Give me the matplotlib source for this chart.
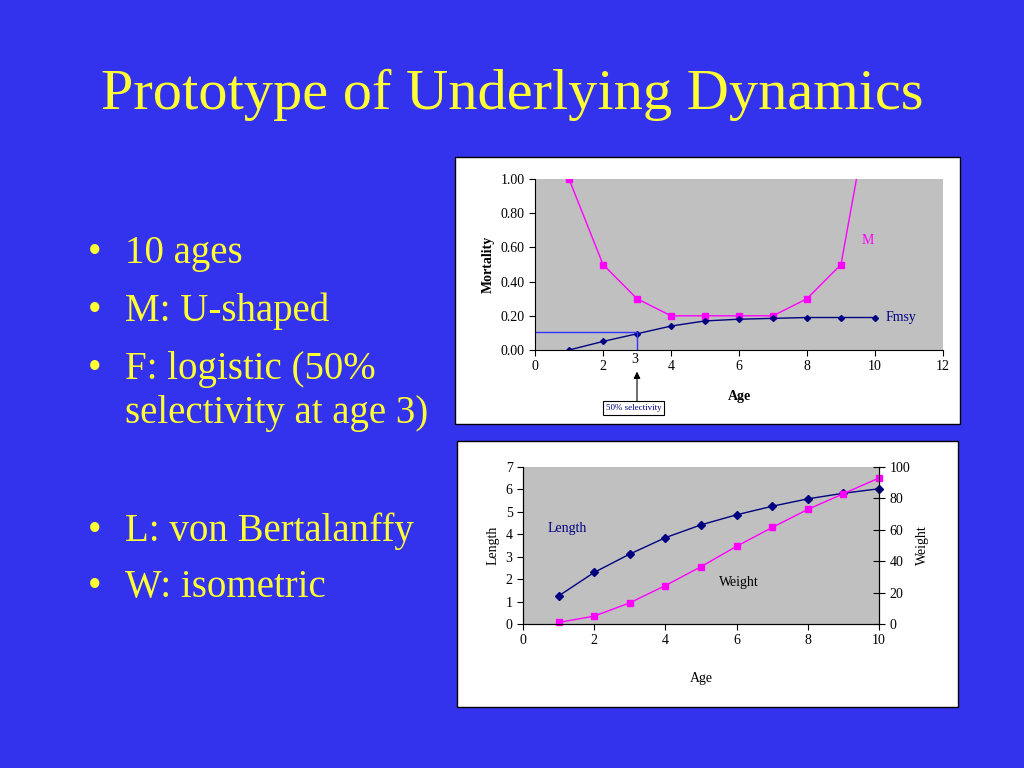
import matplotlib
matplotlib.use("Agg")
import matplotlib.pyplot as plt
from matplotlib.patches import Rectangle

ages = [1, 2, 3, 4, 5, 6, 7, 8, 9, 10]
M = [1.0, 0.5, 0.3, 0.2, 0.2, 0.2, 0.2, 0.3, 0.5, 1.6]
F = [0.0, 0.05, 0.095, 0.14, 0.17, 0.18, 0.185, 0.19, 0.19, 0.19]
length = [1.25, 2.3, 3.12, 3.85, 4.42, 4.87, 5.25, 5.58, 5.83, 6.03]
weight = [1, 5, 13.5, 24.5, 36.5, 49.5, 61.5, 73, 83, 93]
bullets = ["10 ages", "M: U-shaped", "F: logistic (50%", "L: von Bertalanffy", "W: isometric"]
bullet_cont = "selectivity at age 3)"

BG = "#3333ee"; YEL = "#ffff33"; NAVY = "#000080"; MAG = "#ff00ff"; GREY = "#c0c0c0"
W, H = 1024, 768
plt.rcParams["font.family"] = "Liberation Serif"
fig = plt.figure(figsize=(10.24, 7.68), dpi=100, facecolor=BG)

def fx(x): return x / W
def fy(y): return 1 - y / H
def box(x0, y0, x1, y1):
    return [fx(x0), fy(y1), fx(x1) - fx(x0), fy(y0) - fy(y1)]

fig.text(fx(512), fy(95), "Prototype of Underlying Dynamics", color=YEL,
         fontsize=42, ha="center", va="center")
for t, y in zip(bullets, [253, 311, 370, 531, 587]):
    fig.text(fx(88), fy(y), "•", color=YEL, fontsize=28, va="center")
    fig.text(fx(125), fy(y), t, color=YEL, fontsize=28, va="center")
fig.text(fx(125), fy(413), bullet_cont, color=YEL, fontsize=28, va="center")

for (x0, y0, x1, y1) in [(455, 157, 960, 424), (457, 441, 958, 707)]:
    fig.add_artist(Rectangle((fx(x0), fy(y1)), fx(x1) - fx(x0), fy(y0) - fy(y1),
                             transform=fig.transFigure, facecolor="white",
                             edgecolor="black", lw=1, zorder=-5))

# top chart
ax = fig.add_axes(box(535, 179, 943, 350))
ax.set_zorder(2)
ax.set_facecolor(GREY)
ax.plot(ages, M, color=MAG, lw=1, marker="s", ms=4)
ax.plot(ages, F, color=NAVY, lw=1, marker="D", ms=3)
ax.plot([0, 3, 3], [0.105, 0.105, 0.0], color="#3333ff", lw=1)
ax.set_xlim(0, 12); ax.set_ylim(0, 1.0)
ax.set_xticks(range(0, 13, 2)); ax.set_yticks([0, 0.2, 0.4, 0.6, 0.8, 1.0])
ax.set_yticklabels([f"{v:.2f}" for v in [0, 0.2, 0.4, 0.6, 0.8, 1.0]])
ax.tick_params(labelsize=10, direction="out", length=4)
for s in ["top", "right"]: ax.spines[s].set_visible(False)
ax.set_ylabel("Mortality", fontsize=10, fontweight="bold")
ax.set_xlabel("Age", fontsize=10, fontweight="bold", labelpad=12)
ax.text(9.6, 0.64, "M", color=MAG, fontsize=10, va="center")
ax.text(10.3, 0.19, "Fmsy", color=NAVY, fontsize=10, va="center")
ax.text(2.93, -0.02, "3", fontsize=10, ha="center", va="top", clip_on=False)
ax.annotate("", xy=(3.0, -0.11), xytext=(3.0, -0.33), xycoords="data",
            arrowprops=dict(arrowstyle="-|>", color="black", lw=0.8), annotation_clip=False)
ax.text(2.9, -0.34, "50% selectivity", fontsize=6.5, color=NAVY, ha="center", va="center",
        bbox=dict(facecolor="white", edgecolor="black", lw=0.8, pad=2), clip_on=False)

# bottom chart
ax2 = fig.add_axes(box(523, 467, 879, 624))
ax2.set_zorder(2)
ax2.set_facecolor(GREY)
ax2.plot(ages, length, color=NAVY, lw=1, marker="D", ms=4, clip_on=False, zorder=4)
ax2.set_xlim(0, 10); ax2.set_ylim(0, 7)
ax2.set_xticks(range(0, 11, 2)); ax2.set_yticks(range(0, 8))
ax2.tick_params(labelsize=10, direction="out", length=4)
ax2.set_ylabel("Length", fontsize=10)
ax2.set_xlabel("Age", fontsize=10, labelpad=18)
ax2.spines["top"].set_visible(False)
ax3 = ax2.twinx()
ax3.set_zorder(3)
ax3.plot(ages, weight, color=MAG, lw=1, marker="s", ms=5, clip_on=False)
ax3.set_ylim(0, 100); ax3.set_yticks(range(0, 101, 20))
ax3.tick_params(labelsize=10, direction="inout", length=8)
ax3.set_ylabel("Weight", fontsize=10)
ax3.spines["top"].set_visible(False)
ax2.text(0.7, 4.1, "Length", color=NAVY, fontsize=10)
ax2.text(5.5, 1.7, "Weight", color="black", fontsize=10)

fig.savefig("out.png", dpi=100, facecolor=BG)
